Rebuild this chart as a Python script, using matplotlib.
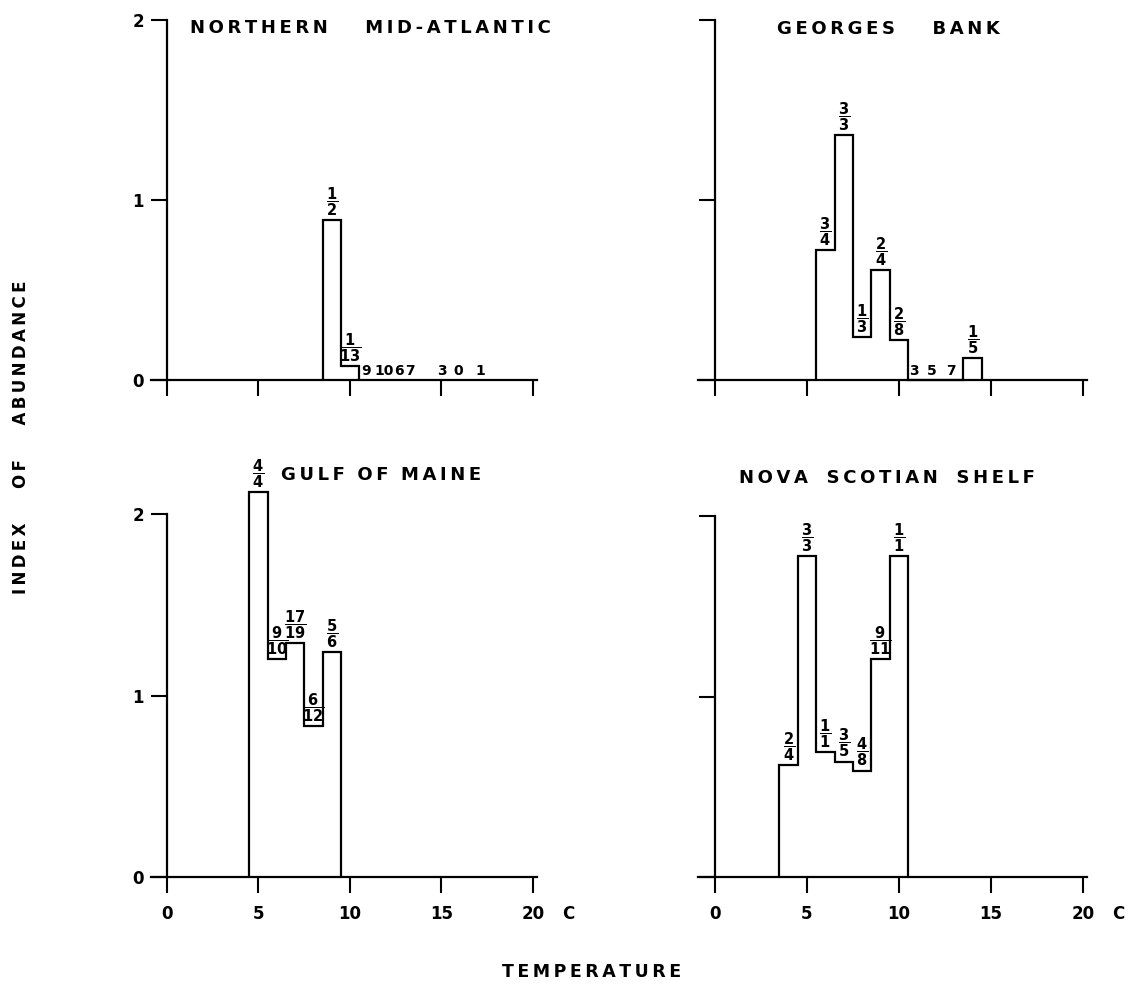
import numpy as np
import matplotlib.pyplot as plt

plt.rcParams['font.family'] = 'DejaVu Sans'
plt.rcParams['font.weight'] = 'bold'
plt.rcParams['mathtext.fontset'] = 'dejavusans'

# bin centres (deg C), index of abundance, positive tows / total tows
# Northern Mid-Atlantic
nma_temp = [9, 10]
nma_index = [0.89, 0.08]
nma_num = ['1', '1']
nma_den = ['2', '13']
nma_zero_temp = [10.9, 11.85, 12.65, 13.25, 15.0, 15.9, 17.1]
nma_zero_n = ['9', '10', '6', '7', '3', '0', '1']

# Georges Bank
gb_temp = [6, 7, 8, 9, 10, 11, 12, 13, 14]
gb_index = [0.72, 1.36, 0.24, 0.61, 0.22, 0, 0, 0, 0.12]
gb_num = ['3', '3', '1', '2', '2', '', '', '', '1']
gb_den = ['4', '3', '3', '4', '8', '', '', '', '5']
gb_zero_temp = [10.8, 11.8, 12.8]
gb_zero_n = ['3', '5', '7']

# Gulf of Maine
gom_temp = [5, 6, 7, 8, 9]
gom_index = [2.12, 1.20, 1.29, 0.83, 1.24]
gom_num = ['4', '9', '17', '6', '5']
gom_den = ['4', '10', '19', '12', '6']

# Nova Scotian Shelf
nss_temp = [4, 5, 6, 7, 8, 9, 10]
nss_index = [0.62, 1.78, 0.69, 0.64, 0.59, 1.21, 1.78]
nss_num = ['2', '3', '1', '3', '4', '9', '1']
nss_den = ['4', '3', '1', '5', '8', '11', '1']

x_ticks = [0, 5, 10, 15, 20]
y_ticks = [0, 1, 2]


def spaced(words, gap=3):
    # hand lettering: wide letter spacing
    return (' ' * gap).join('\u2009'.join(w) for w in words)


fig = plt.figure(figsize=(11.29, 9.84), dpi=100)


def panel(rect, temp, index, num, den, title, tx, ty, ylab, xlab,
          zero_temp=(), zero_n=()):
    ax = fig.add_axes(rect)
    ax.patch.set_visible(False)
    edges = np.append(np.array(temp) - 0.5, temp[-1] + 0.5)
    ax.stairs(index, edges, baseline=0, color='black', lw=1.6, clip_on=False)
    for t, h, n, d in zip(temp, index, num, den):
        if n:
            ax.annotate(r'$\dfrac{\mathbf{%s}}{\mathbf{%s}}$' % (n, d), (t, h),
                        xytext=(0, 1.5), textcoords='offset points',
                        ha='center', va='bottom', fontsize=10.5,
                        annotation_clip=False)
    for t, n in zip(zero_temp, zero_n):
        ax.annotate(n, (t, 0), xytext=(0, 1.5), textcoords='offset points',
                    ha='center', va='bottom', fontsize=10)
    ax.text(tx, ty, title, ha='left', va='center', fontsize=13, clip_on=False)

    ax.set_xlim(-1, 20.5)
    ax.set_ylim(0, 2)
    for s in ['top', 'right']:
        ax.spines[s].set_visible(False)
    ax.spines['left'].set_position(('data', 0))
    ax.spines['left'].set_bounds(0, 2)
    ax.spines['bottom'].set_bounds(-0.9, 20.2)
    for s in ['left', 'bottom']:
        ax.spines[s].set_linewidth(1.6)
    ax.set_xticks(x_ticks)
    ax.set_yticks(y_ticks)
    ax.tick_params(axis='both', direction='out', length=11.5, width=1.5,
                   labelsize=12)
    ax.tick_params(axis='x', pad=8.5, labelbottom=xlab)
    ax.tick_params(axis='y', pad=5, labelleft=ylab)
    if xlab:
        ax.annotate('C', (21.6, 0), xytext=(0, -20), textcoords='offset points',
                    ha='left', va='top', fontsize=12, annotation_clip=False)
    return ax


panel([0.1317, 0.6138, 0.3485, 0.3659], nma_temp, nma_index, nma_num, nma_den,
      spaced(['NORTHERN', 'MID-ATLANTIC'], 6), 1.26, 1.955, True, False,
      nma_zero_temp, nma_zero_n)
panel([0.617, 0.6138, 0.3504, 0.3659], gb_temp, gb_index, gb_num, gb_den,
      spaced(['GEORGES', 'BANK'], 6), 3.37, 1.95, False, False,
      gb_zero_temp, gb_zero_n)
panel([0.1317, 0.1087, 0.3485, 0.3689], gom_temp, gom_index, gom_num, gom_den,
      spaced(['GULF', 'OF', 'MAINE'], 2), 6.23, 2.215, True, True)
panel([0.617, 0.1087, 0.3504, 0.3669], nss_temp, nss_index, nss_num, nss_den,
      spaced(['NOVA', 'SCOTIAN', 'SHELF'], 3), 1.30, 2.213, False, True)

fig.text(0.019, 0.556, spaced(['INDEX', 'OF', 'ABUNDANCE'], 6), rotation=90,
         ha='center', va='center', fontsize=12)
fig.text(0.524, 0.012, spaced(['TEMPERATURE']), ha='center', va='center',
         fontsize=12.5)

fig.savefig('out.png', dpi=100)
